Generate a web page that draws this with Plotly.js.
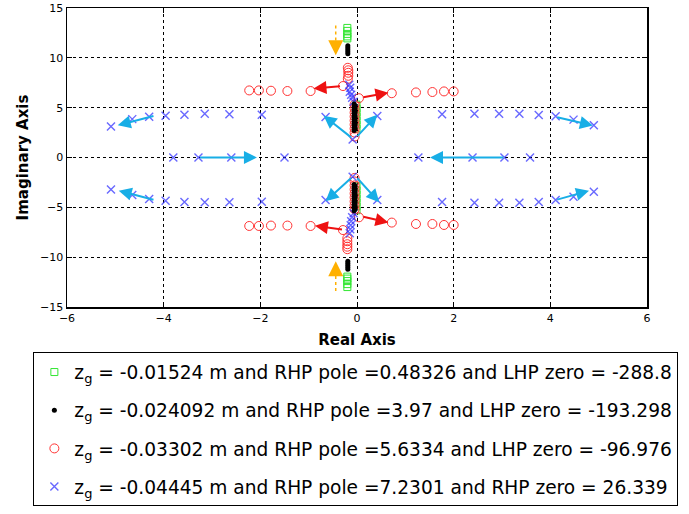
<!DOCTYPE html>
<html>
<head>
<meta charset="utf-8">
<script src="https://cdn.plot.ly/plotly-3.0.1.min.js"></script>
<style>html,body{margin:0;padding:0;background:#fff;}#chart{width:689px;height:514px;}</style>
</head>
<body>
<div id="chart"></div>
<script>
// ---- legend labels ----
var seriesNames = [
  "z<sub>g</sub> = -0.01524 m and RHP pole =0.48326 and LHP zero = -288.8",
  "z<sub>g</sub> = -0.024092 m and RHP pole =3.97 and LHP zero = -193.298",
  "z<sub>g</sub> = -0.03302 m and RHP pole =5.6334 and LHP zero = -96.976",
  "z<sub>g</sub> = -0.04445 m and RHP pole =7.2301 and RHP zero = 26.339"
];

// ---- series 1 (green squares) ----
var greenX = [-0.2,-0.2,-0.2,-0.2,-0.2, -0.01,-0.01,-0.01,-0.01,-0.01,-0.01,-0.01,
              -0.01,-0.01,-0.01,-0.01,-0.01,-0.01,-0.01, -0.2,-0.2,-0.2,-0.2,-0.2];
var greenY = [13.0,12.7,12.4,12.15,11.95, 2.9,3.3,3.7,4.1,4.5,4.9,5.3,
              -2.9,-3.3,-3.7,-4.1,-4.5,-4.9,-5.3, -11.95,-12.15,-12.4,-12.7,-13.0];

// ---- series 2 (black dots) ----
var blackX = [-0.19,-0.19,-0.19,-0.19,-0.19,
              -0.06,-0.04,-0.06,-0.04,-0.06,-0.04,-0.06,-0.04,-0.06,-0.04,-0.06,-0.04,-0.06,-0.04,-0.06,-0.04,-0.06,-0.04,-0.06,
              -0.06,-0.04,-0.06,-0.04,-0.06,-0.04,-0.06,-0.04,-0.06,-0.04,-0.06,-0.04,-0.06,-0.04,-0.06,-0.04,-0.06,-0.04,-0.06,
              -0.19,-0.19,-0.19,-0.19,-0.19];
var blackY = [11.2,11.0,10.8,10.6,10.4,
              2.7,2.85,3.0,3.12,3.28,3.42,3.57,3.7,3.86,4.0,4.14,4.3,4.45,4.6,4.74,4.9,5.05,5.2,5.38,
              -2.7,-2.85,-3.0,-3.12,-3.28,-3.42,-3.57,-3.7,-3.86,-4.0,-4.14,-4.3,-4.45,-4.6,-4.74,-4.9,-5.05,-5.2,-5.35,
              -10.4,-10.6,-10.8,-11.0,-11.2];

// ---- series 3 (red circles) ----
var redX = [-2.23,-2.03,-1.78,-1.44,-0.96,-0.29, -0.19,-0.18,-0.18,-0.18,-0.19,
            0.04,0.72,1.22,1.56,1.8,2.0,
            -0.05,-0.05,-0.05,-0.05,-0.05,-0.05,-0.05,-0.05,-0.05,
            -2.23,-2.03,-1.78,-1.44,-0.96,-0.29, -0.2,-0.2,-0.2,-0.2,-0.2,
            0.04,0.72,1.22,1.56,1.8,2.0,
            -0.05,-0.05,-0.05,-0.05,-0.05,-0.05,-0.05,-0.05,-0.05];
var redY = [6.73,6.73,6.7,6.67,6.67,7.17, 7.9,8.2,8.5,8.75,9.0,
            5.95,6.45,6.53,6.57,6.63,6.63,
            2.1,2.5,2.9,3.3,3.7,4.1,4.5,4.9,5.3,
            -6.87,-6.87,-6.83,-6.83,-6.87,-7.28, -8.1,-8.4,-8.7,-8.95,-9.2,
            -6.0,-6.53,-6.67,-6.67,-6.77,-6.77,
            -2.05,-2.4,-2.8,-3.2,-3.6,-4.0,-4.4,-4.8,-5.2];

// ---- series 4 (blue crosses) ----
var blueX = [-5.09,-4.65,-4.3,-3.96,-3.57,-3.15,-2.64,-1.97, -0.65,0.42,-0.09,
             -0.16,-0.14,-0.15,-0.12,-0.1,-0.07,
             1.76,2.43,2.94,3.36,3.76,4.11,4.48,4.9,
             -3.8,-3.28,-2.6,-1.5, 1.27,2.39,3.05,3.58,
             -5.09,-4.65,-4.3,-3.96,-3.57,-3.15,-2.64,-1.97, -0.65,0.42,-0.09,
             -0.07,-0.1,-0.12,-0.13,-0.14,-0.15,
             1.76,2.43,2.94,3.36,3.76,4.11,4.48,4.9];
var blueY = [3.1,3.85,4.1,4.2,4.3,4.4,4.35,4.3, 4.07,4.17,1.8,
             7.3,7.0,6.6,6.3,6.0,5.6,
             4.33,4.4,4.4,4.4,4.27,4.13,3.8,3.23,
             0,0,0,0, 0,0,0,0,
             -3.2,-3.77,-4.17,-4.33,-4.47,-4.5,-4.5,-4.43, -4.27,-4.27,-1.93,
             -5.6,-6.0,-6.4,-6.8,-7.2,-7.6,
             -4.47,-4.53,-4.53,-4.53,-4.47,-4.27,-3.93,-3.43];

// ---- direction arrows (tail -> head) ----
var cyanTailX = [-4.18,-4.18,-3.28,3.06,4.11,4.11,-0.09,-0.02,-0.09,-0.02];
var cyanTailY = [4.2,-4.27,0,0,4.07,-4.27,1.9,2.0,-1.93,-1.93];
var cyanHeadX = [-4.95,-4.93,-2.07,1.51,4.88,4.8,-0.69,0.42,-0.65,0.46];
var cyanHeadY = [3.23,-3.33,0,0,3.2,-3.33,4.2,4.3,-4.4,-4.5];

var redTailX = [-0.32,0.1,-0.28,0.1];
var redTailY = [7.15,6.02,-7.25,-5.92];
var redHeadX = [-0.9,0.65,-0.87,0.65];
var redHeadY = [6.92,6.5,-6.85,-6.52];

var orangeX = [-0.44,-0.44];
var orangeTailY = [13.25,-13.4];
var orangeHeadY = [10.25,-10.4];

var traces = [
  {x: greenX, y: greenY, type: 'scatter', mode: 'markers', name: seriesNames[0], legendrank: 1, legendgroup: 'a',
   marker: {symbol: 'square-open', size: 7, color: '#33e633', line: {width: 1}}},
  {x: redX, y: redY, type: 'scatter', mode: 'markers', name: seriesNames[2], legendrank: 3, legendgroup: 'c',
   marker: {symbol: 'circle-open', size: 9, color: '#ff3333', line: {width: 1}}},
  {x: blueX, y: blueY, type: 'scatter', mode: 'markers', name: seriesNames[3], legendrank: 4, legendgroup: 'd',
   marker: {symbol: 'x-thin-open', size: 8, color: 'rgba(40,40,255,0.7)', line: {width: 1.4}}},
  {x: blackX, y: blackY, type: 'scatter', mode: 'markers', name: seriesNames[1], legendrank: 2, legendgroup: 'b',
   marker: {symbol: 'circle', size: 5, color: '#000000'}}
];

// dotted orange stems
for (var i = 0; i < orangeX.length; i++) {
  traces.push({x: [orangeX[i], orangeX[i]], y: [orangeTailY[i], orangeHeadY[i]], type: 'scatter', mode: 'lines',
    showlegend: false, hoverinfo: 'skip', line: {color: '#ffb000', width: 1.5, dash: 'dot'}});
}

var annotations = [];
function addArrows(tx, ty, hx, hy, color, size) {
  for (var i = 0; i < tx.length; i++) {
    annotations.push({x: hx[i], y: hy[i], ax: tx[i], ay: ty[i], xref: 'x', yref: 'y', axref: 'x', ayref: 'y',
      text: '', showarrow: true, arrowhead: 2, arrowsize: size, arrowwidth: 2, arrowcolor: color, standoff: 0});
  }
}
addArrows(cyanTailX, cyanTailY, cyanHeadX, cyanHeadY, '#18aee6', 1.3);
addArrows(redTailX, redTailY, redHeadX, redHeadY, '#ee1111', 1.3);
// orange heads only (stem drawn dotted above)
var orangeBaseY = [];
for (var j = 0; j < orangeX.length; j++) {
  orangeBaseY.push(orangeHeadY[j] + (orangeTailY[j] > 0 ? 1.4 : -1.4));
}
addArrows(orangeX, orangeBaseY, orangeX, orangeHeadY, '#ffb000', 1.5);

var axisCommon = {
  showline: true, linecolor: '#000', linewidth: 1.5, mirror: 'ticks',
  ticks: 'inside', ticklen: 5, tickcolor: '#000',
  showgrid: true, gridcolor: '#000', gridwidth: 1, griddash: 'dot',
  zeroline: false, tickfont: {size: 11, color: '#000'}
};

var layout = {
  width: 689, height: 514,
  margin: {l: 67, r: 42, t: 8, b: 207, autoexpand: false},
  font: {family: 'DejaVu Sans', color: '#000'},
  paper_bgcolor: '#fff', plot_bgcolor: '#fff',
  xaxis: Object.assign({}, axisCommon, {range: [-6, 6], dtick: 2, tick0: 0,
    title: {text: 'Real Axis', font: {size: 15, weight: 'bold'}, standoff: 11}}),
  yaxis: Object.assign({}, axisCommon, {range: [-15, 15], dtick: 5, tick0: 0,
    title: {text: 'Imaginary Axis', font: {size: 15, weight: 'bold'}, standoff: 8}}),
  showlegend: true,
  legend: {x: -0.058, xanchor: 'left', y: -0.152, yanchor: 'top', bgcolor: '#fff',
    bordercolor: '#000', borderwidth: 1, font: {size: 18.6}, traceorder: 'grouped', tracegroupgap: 11,
    itemwidth: 30},
  annotations: annotations
};

Plotly.newPlot('chart', traces, layout, {displayModeBar: false, staticPlot: true});
</script>
</body>
</html>
